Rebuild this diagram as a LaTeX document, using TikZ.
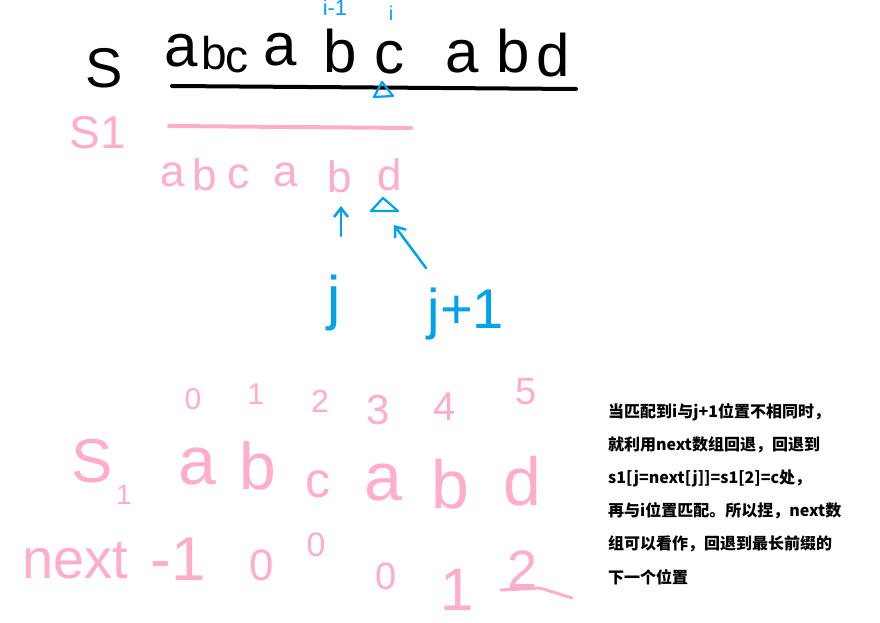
\documentclass[tikz,border=0pt]{standalone}
\usepackage{fontspec}
\setmainfont{Liberation Sans}
\newfontfamily\cjk{Noto Sans CJK SC}
\usetikzlibrary{arrows.meta}
\definecolor{hpink}{RGB}{255,174,201}
\definecolor{hblue}{RGB}{0,162,232}
\begin{document}
\begin{tikzpicture}[x=1pt,y=-1pt,
  fs/.style={font=\fontsize{#1}{#1}\selectfont},
  blk/.style={anchor=base,text=black,inner sep=0pt,fs=60},
  pk/.style={anchor=base,text=hpink,inner sep=0pt},
  bl/.style={anchor=base,text=hblue,inner sep=0pt},
  zh/.style={anchor=west,inner sep=0pt,font=\cjk\bfseries\fontsize{16}{16}\selectfont},
  pen/.style={line width=#1,line cap=round,line join=round},
  barb/.style={-{Straight Barb[length=9pt,width=14pt,line width=2.5pt]}}]
\useasboundingbox[fill=white] (0,0) rectangle (880,623);

% ---- top: S and text string
\node[blk,fs=56] (S) at (104,88) {S};
\node[blk] (t1) at (181,67) {a};
\node[blk,fs=46] (t2) at (214,70) {b};
\node[blk,fs=46] (t3) at (237,73) {c};
\node[blk] (t4) at (280,66) {a};
\node[blk] (t5) at (340,73) {b};
\node[blk,text height=0.52em] (t6) at (389,74) {c};
\node[blk] (t7) at (462,73) {a};
\node[blk] (t8) at (513,73) {b};
\node[blk] (t9) at (553,77) {d};
\coordinate (Lstart) at (172,86);
\coordinate (Lend) at (576,89);
\draw[pen=4pt,black] (Lstart) -- (Lend);

% i-1, i labels
\node[bl,fs=22] (im1) at (335,16) {i-1};
\node[bl,fs=20] (iii) at (391,21) {i};
% triangle below c
\draw[pen=2.2pt,hblue] (382,82) -- (393,96) -- (374,97) -- cycle;

% ---- S1 and pattern
\node[pk,fs=46] (S1a) at (98,148) {S1};
\draw[pen=4pt,hpink] (169,126) -- (411,128);
\node[pk,fs=44] (p1) at (173,186) {a};
\node[pk,fs=44] (p2) at (205,190) {b};
\node[pk,fs=44] (p3) at (238,188) {c};
\node[pk,fs=44] (p4) at (286,186) {a};
\node[pk,fs=44] (p5) at (340,192) {b};
\node[pk,fs=44] (p6) at (390,190) {d};

% ---- pointers
\draw[pen=2.2pt,hblue] (383,198) -- (398,211) -- (371,211) -- cycle;
\node[bl,fs=60] (jj) at (334,318) {j};
\coordinate (jt) at (341,236);
\coordinate (jh) at (341,206);
\draw[pen=2.5pt,hblue,barb] (jt) -- (jh);
\node[bl,fs=56] (jp) at (466,328) {j+1};
\coordinate (kt) at (426,268);
\coordinate (kh) at (394,225);
\draw[pen=2.5pt,hblue,barb] (kt) -- (kh);

% ---- table
\node[pk,fs=30] (n0) at (193,409) {0};
\node[pk,fs=30] (n1) at (256,404) {1};
\node[pk,fs=32] (n2) at (320,412) {2};
\node[pk,fs=42] (n3) at (378,424) {3};
\node[pk,fs=40] (n4) at (445,420) {4};
\node[pk,fs=38] (n5) at (526,404) {5};

\node[pk,fs=62] (S2) at (92,482) {S};
\node[pk,fs=28] (S2i) at (124,504) {1};
\node[pk,fs=68] (r1) at (197,484) {a};
\node[pk,fs=66] (r2) at (258,489) {b};
\node[pk,fs=50] (r3) at (318,497) {c};
\node[pk,fs=68] (r4) at (383,500) {a};
\node[pk,fs=68] (r5) at (450,508) {b};
\node[pk,fs=68] (r6) at (522,505) {d};

\node[pk,fs=56] (nx) at (75,578) {next};
\node[pk,fs=62] (m1) at (178,580) {-1};
\node[pk,fs=44] (m2) at (262,580) {0};
\node[pk,fs=34] (m3) at (316,556) {0};
\node[pk,fs=38] (m4) at (386,589) {0};
\node[pk,fs=60] (m5) at (457,610) {1};
\node[pk,fs=54] (m6) at (523,588) {2};
\draw[pen=3pt,hpink] (501,590) -- (540,588) -- (572,598);

% ---- note
\node[zh] (z1) at (608,412) {当匹配到i与j+1位置不相同时，};
\node[zh] (z2) at (608,445) {就利用next数组回退，回退到};
\node[zh] (z3) at (608,478) {s1[j=next[j]]=s1[2]=c处，};
\node[zh] (z4) at (608,511) {再与i位置匹配。所以捏，next数};
\node[zh] (z5) at (608,544) {组可以看作，回退到最长前缀的};
\node[zh] (z6) at (608,577) {下一个位置};
\end{tikzpicture}
\end{document}
